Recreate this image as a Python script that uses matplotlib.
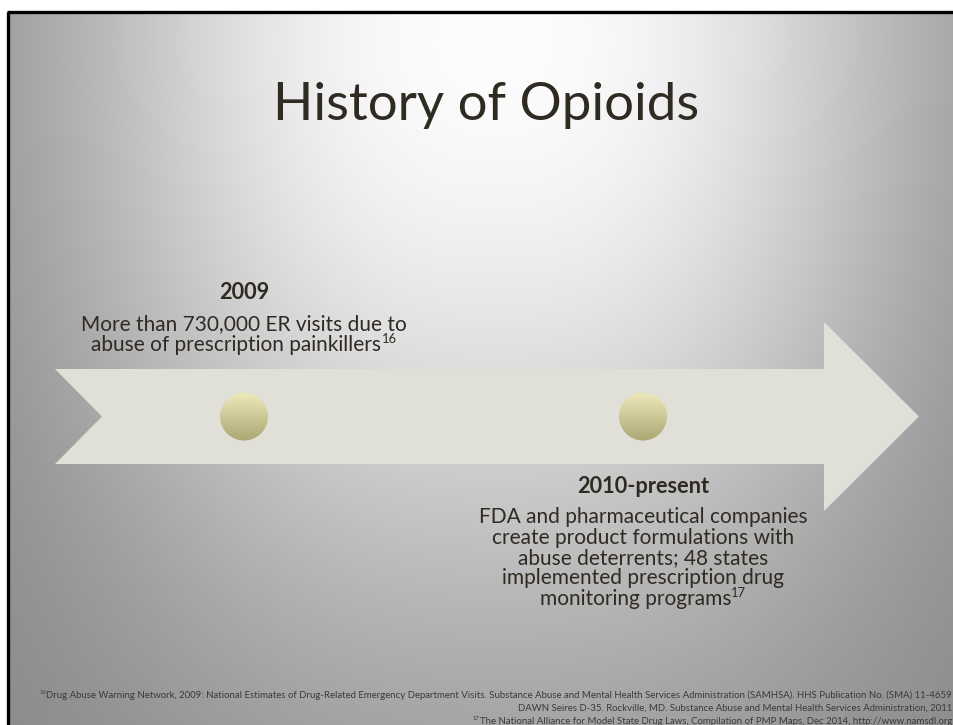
import numpy as np
import matplotlib
matplotlib.use('Agg')
import matplotlib.pyplot as plt
from matplotlib.patches import Polygon, Circle

plt.rcParams['font.family'] = ['Lato', 'DejaVu Sans']

# slide content
title = 'History of Opioids'
years = ['2009', '2010-present']
details = [
    ['More than 730,000 ER visits due to',
     'abuse of prescription painkillers'],
    ['FDA and pharmaceutical companies',
     'create product formulations with',
     'abuse deterrents; 48 states',
     'implemented prescription drug',
     'monitoring programs'],
]
detail_refs = ['16', '17']
footnotes = [
    'Drug Abuse Warning Network, 2009: National Estimates of Drug-Related Emergency Department Visits. '
    'Substance Abuse and Mental Health Services Administration (SAMHSA). HHS Publication No. (SMA) 11-4659',
    'DAWN Seires D-35. Rockville, MD. Substance Abuse and Mental Health Services Administration, 2011',
    'The National Alliance for Model State Drug Laws, Compilation of PMP Maps, Dec 2014, http://www.namsdl.org',
]
footnote_refs = ['16', '', '17']

W, H = 954, 725
TXT = '#2f2a22'

fig = plt.figure(figsize=(W / 100, H / 100), dpi=100, facecolor='white')
ax = fig.add_axes([0, 0, 1, 1])
ax.set_xlim(0, W)
ax.set_ylim(H, 0)
ax.axis('off')
renderer = fig.canvas.get_renderer()


def text_width(s, size, **kw):
    t = ax.text(0, 0, s, fontsize=size, **kw)
    w = t.get_window_extent(renderer).width
    t.remove()
    return w


def line_with_sup(x, y, s, sup, size, ha='center', color=TXT):
    # main text plus a raised small reference number
    ssize = size * 0.62
    wm = text_width(s, size)
    ws = text_width(sup, ssize) if sup else 0
    rise = size * 100 / 72 * 0.38
    if ha == 'center':
        left = x - (wm + ws) / 2
        ax.text(left, y, s, ha='left', va='baseline', fontsize=size, color=color, zorder=4)
        if sup:
            ax.text(left + wm, y - rise, sup, ha='left', va='baseline', fontsize=ssize, color=color, zorder=4)
    else:
        # reference number sits in front of right-aligned text
        ax.text(x, y, s, ha='right', va='baseline', fontsize=size, color=color, zorder=4)
        if sup:
            ax.text(x - wm, y - rise, sup, ha='right', va='baseline', fontsize=ssize, color=color, zorder=4)


# background gradient (light at top centre, grey to the corners)
yy, xx = np.mgrid[0:H, 0:W]
r2 = np.abs((xx - 490) / 480.0) ** 2.5 + ((yy - 30) / 700.0) ** 2
val = (132 + 120 * np.exp(-1.3 * r2)) / 255.0
bg = np.dstack([val, val, val])
ax.imshow(bg, extent=[9, W, H, 13], zorder=0, aspect='auto')
ax.plot([8, 8], [12, H], color='black', lw=2.4, zorder=1, solid_capstyle='butt')
ax.plot([7, W], [12, 12], color='black', lw=2.4, zorder=1, solid_capstyle='butt')

# timeline arrow
band_top, band_bot, mid = 369, 464, 416.5
arrow = Polygon([(55, band_top), (824, band_top), (824, 322), (919, mid), (824, 511),
                 (824, band_bot), (55, band_bot), (102, mid)],
                closed=True, facecolor='#e0e0d8', edgecolor='none', zorder=2)
ax.add_patch(arrow)

# circle markers with vertical gradient
grad = np.linspace(0, 1, 100)[:, None]
c_top = np.array([0xec, 0xe8, 0xba]) / 255.0
c_bot = np.array([0xab, 0xa7, 0x72]) / 255.0
cimg = c_top[None, None, :] * (1 - grad[:, :, None]) + c_bot[None, None, :] * grad[:, :, None]
xs = [244, 643]
for x in xs:
    rad = 24
    im = ax.imshow(cimg, extent=[x - rad, x + rad, mid + rad, mid - rad], zorder=3, aspect='auto')
    clip = Circle((x, mid), rad, transform=ax.transData)
    im.set_clip_path(clip)

# texts
ax.text(486, 120, title, ha='center', va='baseline', fontsize=38, color=TXT, zorder=4)

year_base = [299, 493]
detail_base = [330, 523]
for i in range(2):
    ax.text(xs[i], year_base[i], years[i], ha='center', va='baseline', fontsize=15.7,
            fontweight='bold', color=TXT, zorder=4)
    n = len(details[i])
    for j, line in enumerate(details[i]):
        sup = detail_refs[i] if j == n - 1 else ''
        line_with_sup(xs[i], detail_base[i] + j * 20.5, line, sup, 15.0)

for i, line in enumerate(footnotes):
    line_with_sup(952, 698 + i * 12.8, line, footnote_refs[i], 6.95, ha='right', color='#3a3a3a')

fig.savefig('out.png', dpi=100, facecolor='white')
